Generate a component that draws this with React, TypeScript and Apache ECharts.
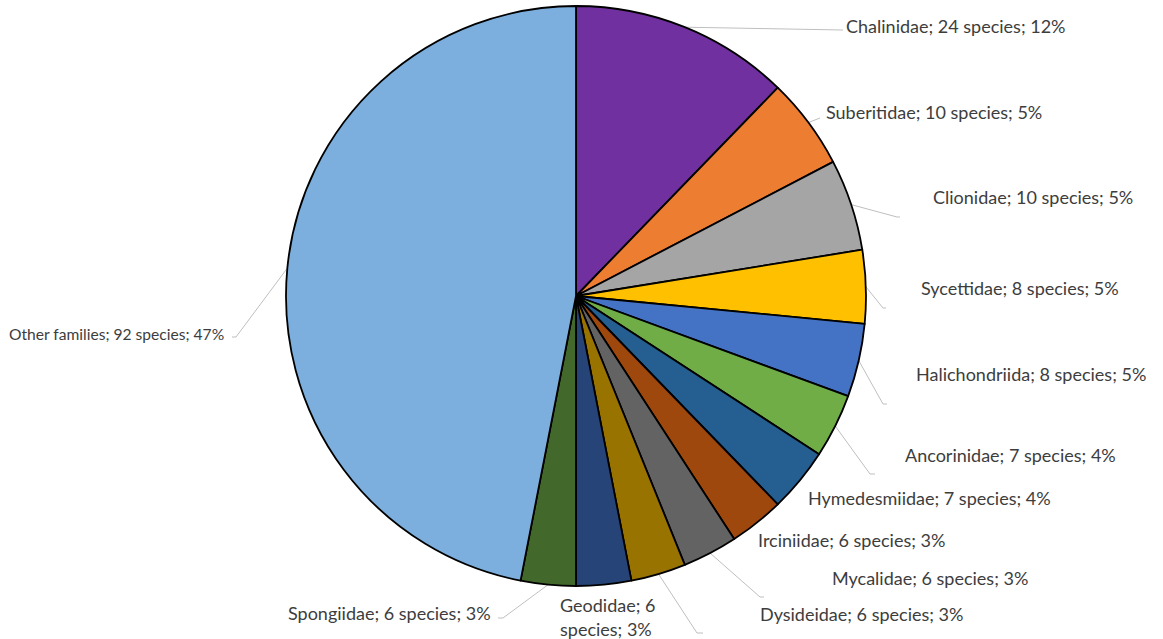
import React, { useEffect, useRef } from "react";
import * as echarts from "echarts";

// Sponge families and their species counts
const families = [
  "Chalinidae",
  "Suberitidae",
  "Clionidae",
  "Sycettidae",
  "Halichondriida",
  "Ancorinidae",
  "Hymedesmiidae",
  "Irciniidae",
  "Mycalidae",
  "Dysideidae",
  "Geodidae",
  "Spongiidae",
  "Other families",
];
const speciesCounts = [24, 10, 10, 8, 8, 7, 7, 6, 6, 6, 6, 6, 92];
const percentLabels = [12, 5, 5, 5, 5, 4, 4, 3, 3, 3, 3, 3, 47];

const sliceColors = [
  "#7030A0",
  "#ED7D31",
  "#A5A5A5",
  "#FFC000",
  "#4472C4",
  "#70AD47",
  "#255E91",
  "#9E480E",
  "#636363",
  "#997300",
  "#264478",
  "#43682B",
  "#7CAFDD",
];

// Pie geometry (pixels)
const CX = 576;
const CY = 296;
const R = 290;

// Label placement: text anchor (left edge, vertical middle), leader line bend / end points,
// optional line wrap and font size
type Place = { x: number; y: number; line: number[][] | null; wrap?: boolean; size?: number };
const placements: Place[] = [
  { x: 846, y: 26, line: [[843, 30], [843, 30]] },
  { x: 826, y: 112, line: [[820, 118], [820, 118]] },
  { x: 933, y: 197, line: [[897, 217], [900, 217]] },
  { x: 921, y: 288, line: [[883, 308], [886, 308]] },
  { x: 916, y: 374, line: [[883, 404], [887, 404]] },
  { x: 905, y: 455, line: [[870, 474], [875, 474]] },
  { x: 808, y: 498, line: null },
  { x: 758, y: 540, line: null },
  { x: 832, y: 578, line: [[760, 597], [764, 597]] },
  { x: 760, y: 614, line: [[697, 633], [703, 633]] },
  { x: 560, y: 617, line: null, wrap: true },
  { x: 288, y: 613, line: [[503, 618], [498, 618]] },
  { x: 9, y: 334, line: [[236, 337], [232, 337]], size: 15.6 },
];

export default function App() {
  const ref = useRef<HTMLDivElement>(null);

  useEffect(() => {
    if (!ref.current) return;
    const chart = echarts.init(ref.current, undefined, { renderer: "svg" });

    const total = speciesCounts.reduce((a, b) => a + b, 0);
    // Mid-angle point on the rim of each slice (clockwise from 12 o'clock)
    const rimPoints: number[][] = [];
    let acc = 0;
    speciesCounts.forEach((v) => {
      const mid = ((acc + v / 2) / total) * Math.PI * 2;
      rimPoints.push([CX + R * Math.sin(mid), CY - R * Math.cos(mid)]);
      acc += v;
    });

    chart.setOption({
      animation: false,
      backgroundColor: "#ffffff",
      series: [
        {
          type: "pie",
          center: [CX, CY],
          radius: [0, R],
          startAngle: 90,
          clockwise: true,
          avoidLabelOverlap: false,
          itemStyle: { borderColor: "#000000", borderWidth: 1.8 },
          label: {
            show: true,
            position: "outside",
            fontFamily: "Lato, 'Noto Sans', sans-serif",
            fontSize: 18,
            color: "#3d3d3d",
            lineHeight: 24,
            formatter: (p: any) => {
              const i = p.dataIndex;
              const pct = percentLabels[i];
              if (placements[i].wrap) {
                return `${p.name}; ${p.value}\nspecies; ${pct}%`;
              }
              return `${p.name}; ${p.value} species; ${pct}%`;
            },
          },
          labelLine: {
            show: true,
            lineStyle: { color: "#BFBFBF", width: 1 },
          },
          labelLayout: (params: any) => {
            const i = params.dataIndex;
            const pl = placements[i];
            const start = rimPoints[i];
            const pts = pl.line ? [start, pl.line[0], pl.line[1]] : [start, start, start];
            return {
              x: pl.x,
              y: pl.y,
              align: "left",
              verticalAlign: "middle",
              labelLinePoints: pts,
            };
          },
          data: families.map((name, i) => ({
            name,
            value: speciesCounts[i],
            itemStyle: { color: sliceColors[i] },
            labelLine: { show: placements[i].line !== null },
            ...(placements[i].size ? { label: { fontSize: placements[i].size } } : {}),
          })),
        },
      ],
    });

    return () => chart.dispose();
  }, []);

  return (
    <div
      ref={ref}
      style={{ position: "absolute", left: 0, top: 0, width: 1163, height: 639 }}
    />
  );
}
